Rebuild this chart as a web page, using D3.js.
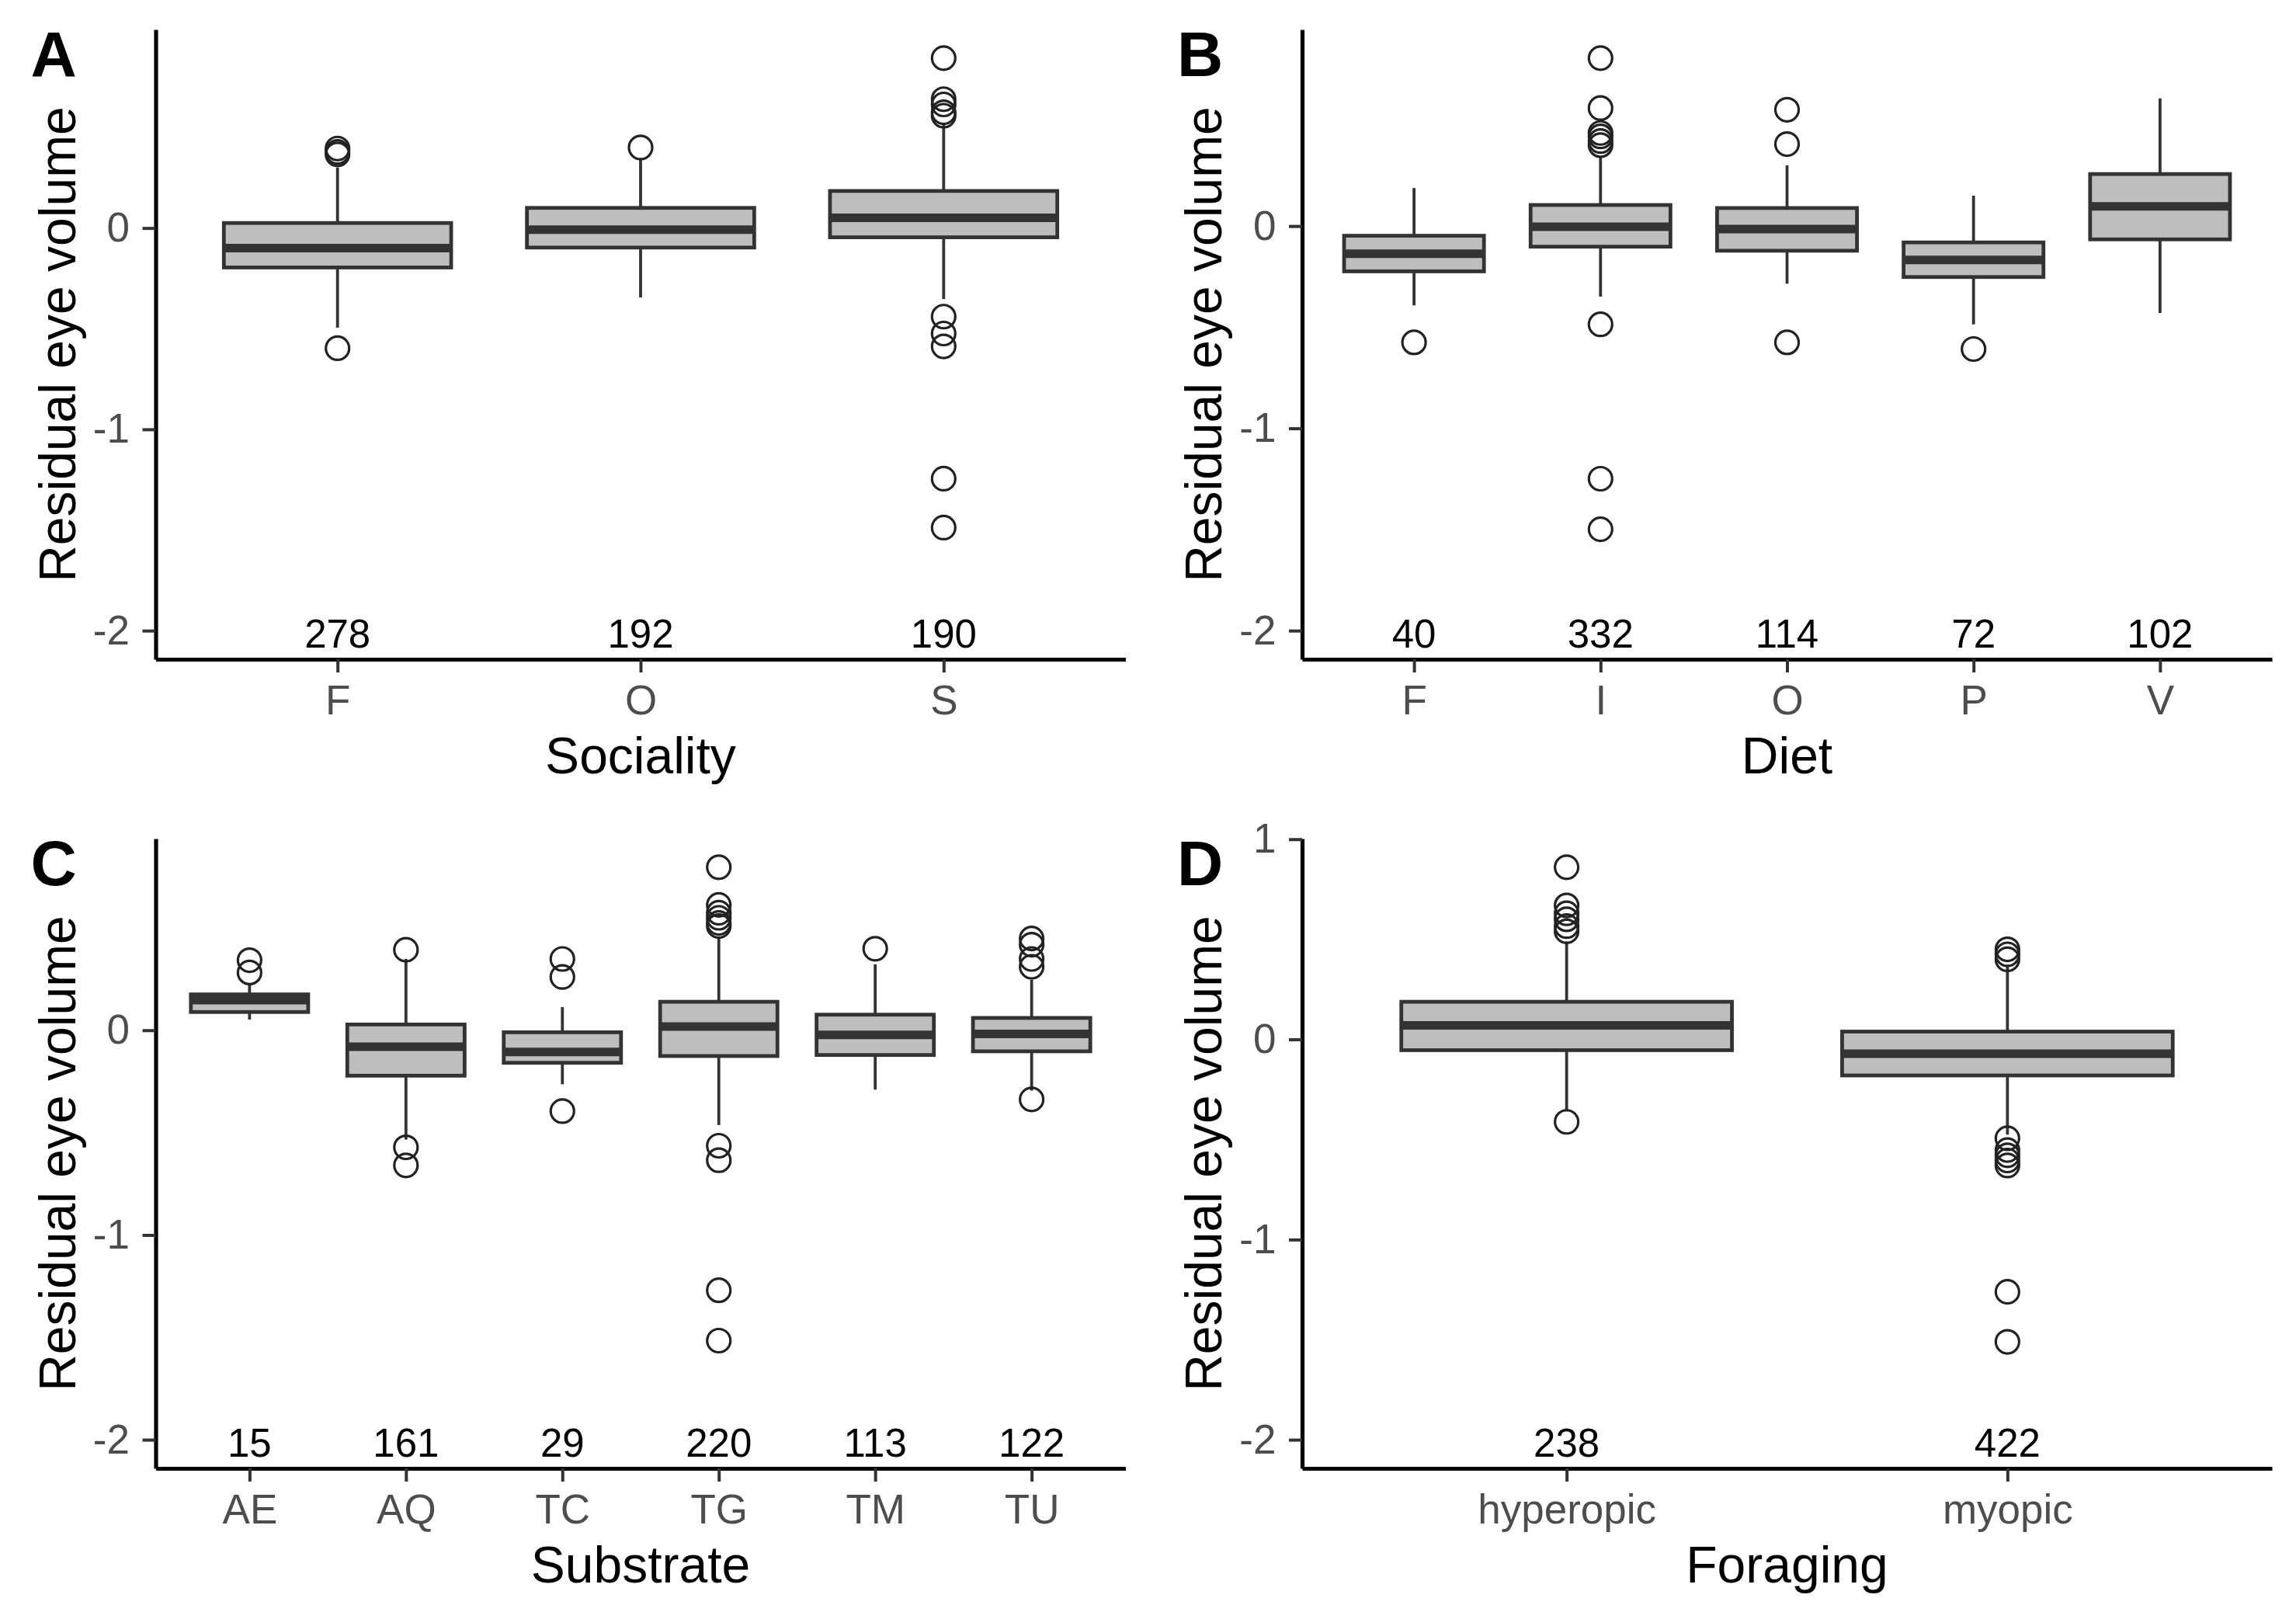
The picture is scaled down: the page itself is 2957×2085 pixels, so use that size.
<!DOCTYPE html>
<html>
<head>
<meta charset="utf-8">
<script src="https://cdn.jsdelivr.net/npm/d3@7"></script>
<style>
  body { margin: 0; background: #fff; }
  text { font-family: "Liberation Sans", Arial, sans-serif; }
</style>
</head>
<body>
<svg id="fig" width="2957" height="2085"></svg>
<script>
// each box row is [lower whisker, q1, median, q3, upper whisker]

// A - sociality
var socialityCats = ["F", "O", "S"];
var socialityN = [278, 192, 190];
var socialityBox = [
    [-0.495, -0.196, -0.100, 0.025, 0.300],
    [-0.345, -0.097, -0.008, 0.100, 0.345],
    [-0.353, -0.046, 0.051, 0.184, 0.520]
];
var socialityOut = [
    [0.395, 0.378, 0.366, -0.597],
    [0.400],
    [0.844, 0.640, 0.614, 0.575, 0.558, -0.440, -0.524, -0.588, -1.245, -1.488]
];

// B - diet
var dietCats = ["F", "I", "O", "P", "V"];
var dietN = [40, 332, 114, 72, 102];
var dietBox = [
    [-0.392, -0.224, -0.137, -0.048, 0.188],
    [-0.349, -0.102, -0.003, 0.104, 0.346],
    [-0.285, -0.122, -0.015, 0.089, 0.300],
    [-0.486, -0.252, -0.168, -0.081, 0.150],
    [-0.430, -0.066, 0.097, 0.257, 0.631]
];
var dietOut = [
    [-0.575],
    [0.830, 0.583, 0.460, 0.443, 0.420, 0.400, -0.486, -1.249, -1.499],
    [0.575, 0.405, -0.575],
    [-0.608],
    []
];

// C - substrate
var substrateCats = ["AE", "AQ", "TC", "TG", "TM", "TU"];
var substrateN = [15, 161, 29, 220, 113, 122];
var substrateBox = [
    [0.052, 0.089, 0.147, 0.175, 0.228],
    [-0.534, -0.222, -0.081, 0.028, 0.348],
    [-0.264, -0.159, -0.106, -0.010, 0.113],
    [-0.463, -0.126, 0.018, 0.139, 0.450],
    [-0.290, -0.121, -0.023, 0.076, 0.322],
    [-0.295, -0.103, -0.018, 0.060, 0.247]
];
var substrateOut = [
    [0.342, 0.282],
    [0.393, -0.572, -0.660],
    [0.348, 0.260, -0.395],
    [0.796, 0.612, 0.574, 0.549, 0.524, 0.509, -0.564, -0.635, -1.270, -1.516],
    [0.398],
    [0.448, 0.418, 0.348, 0.310, -0.338]
];

// D - foraging
var foragingCats = ["hyperopic", "myopic"];
var foragingN = [238, 422];
var foragingBox = [
    [-0.360, -0.054, 0.070, 0.188, 0.489],
    [-0.476, -0.180, -0.072, 0.039, 0.373]
];
var foragingOut = [
    [0.860, 0.669, 0.630, 0.600, 0.566, 0.540, -0.412],
    [0.450, 0.425, 0.400, -0.494, -0.553, -0.579, -0.605, -0.630, -1.261, -1.511]
];

var panels = [
    {letter: "A", title: "Sociality", cats: socialityCats, n: socialityN, box: socialityBox, out: socialityOut, left: 200.5, top: 38},
    {letter: "B", title: "Diet", cats: dietCats, n: dietN, box: dietBox, out: dietOut, left: 1677, top: 38},
    {letter: "C", title: "Substrate", cats: substrateCats, n: substrateN, box: substrateBox, out: substrateOut, left: 200.5, top: 1080},
    {letter: "D", title: "Foraging", cats: foragingCats, n: foragingN, box: foragingBox, out: foragingOut, left: 1677, top: 1080}
];

var W = 1249, H = 811;
var svg = d3.select("#fig");

panels.forEach(function(p) {
    var g = svg.append("g");

    var x = d3.scalePoint()
        .domain(p.cats)
        .range([p.left, p.left + W])
        .padding(0.6);

    // ggplot style 5% expansion around [-2 (count labels), max]
    var ymax = d3.max(p.out.flat().concat(p.box.map(b => b[4])));
    var span = ymax + 2;
    var y = d3.scaleLinear()
        .domain([-2 - 0.05 * span, ymax + 0.05 * span])
        .range([p.top + H, p.top]);

    var bw = x.step() * 0.75;

    var rows = p.cats.map((c, i) => ({cat: c, b: p.box[i], out: p.out[i], n: p.n[i]}));

    var item = g.selectAll(".item").data(rows).join("g").attr("class", "item");

    // whiskers
    item.append("line")
        .attr("x1", d => x(d.cat)).attr("x2", d => x(d.cat))
        .attr("y1", d => y(d.b[3])).attr("y2", d => y(d.b[4]))
        .attr("stroke", "#333").attr("stroke-width", 3.8);
    item.append("line")
        .attr("x1", d => x(d.cat)).attr("x2", d => x(d.cat))
        .attr("y1", d => y(d.b[1])).attr("y2", d => y(d.b[0]))
        .attr("stroke", "#333").attr("stroke-width", 3.8);

    // box
    item.append("rect")
        .attr("x", d => x(d.cat) - bw / 2)
        .attr("width", bw)
        .attr("y", d => y(d.b[3]))
        .attr("height", d => y(d.b[1]) - y(d.b[3]))
        .attr("fill", "#bebebe")
        .attr("stroke", "#333").attr("stroke-width", 4.8);

    // median
    item.append("line")
        .attr("x1", d => x(d.cat) - bw / 2).attr("x2", d => x(d.cat) + bw / 2)
        .attr("y1", d => y(d.b[2])).attr("y2", d => y(d.b[2]))
        .attr("stroke", "#333").attr("stroke-width", 11);

    // outliers
    item.selectAll("circle")
        .data(d => d.out.map(v => ({cat: d.cat, v: v})))
        .join("circle")
        .attr("cx", d => x(d.cat))
        .attr("cy", d => y(d.v))
        .attr("r", 15)
        .attr("fill", "none")
        .attr("stroke", "#222").attr("stroke-width", 3.2);

    // counts at y = -2
    item.append("text")
        .attr("x", d => x(d.cat))
        .attr("y", y(-2))
        .attr("dy", "0.42em")
        .attr("text-anchor", "middle")
        .attr("font-size", 51)
        .attr("fill", "#000")
        .text(d => d.n);

    // axes
    g.append("g")
        .attr("transform", `translate(0,${p.top + H})`)
        .call(d3.axisBottom(x).tickSize(17).tickSizeOuter(0).tickPadding(16.5))
        .call(a => a.select(".domain").attr("stroke", "#000").attr("stroke-width", 5.2))
        .call(a => a.selectAll(".tick line").attr("stroke", "#333").attr("stroke-width", 4))
        .call(a => a.selectAll(".tick text").attr("fill", "#4d4d4d").attr("font-size", 53));

    g.append("g")
        .attr("transform", `translate(${p.left},0)`)
        .call(d3.axisLeft(y).ticks(3).tickFormat(d => String(d)).tickSize(17).tickSizeOuter(0).tickPadding(16.5))
        .call(a => a.select(".domain").attr("stroke", "#000").attr("stroke-width", 5.2))
        .call(a => a.selectAll(".tick line").attr("stroke", "#333").attr("stroke-width", 4))
        .call(a => a.selectAll(".tick text").attr("fill", "#4d4d4d").attr("font-size", 53));

    // titles
    g.append("text")
        .attr("x", p.left + W / 2)
        .attr("y", p.top + H + 147)
        .attr("text-anchor", "middle")
        .attr("font-size", 66)
        .attr("fill", "#000")
        .text(p.title);

    g.append("text")
        .attr("transform", `translate(${p.left - 104},${p.top + H / 2}) rotate(-90)`)
        .attr("text-anchor", "middle")
        .attr("font-size", 66)
        .attr("fill", "#000")
        .text("Residual eye volume");

    g.append("text")
        .attr("x", p.left - 161)
        .attr("y", p.top + 60)
        .attr("font-size", 82)
        .attr("font-weight", "bold")
        .attr("fill", "#000")
        .text(p.letter);
});
</script>
</body>
</html>
